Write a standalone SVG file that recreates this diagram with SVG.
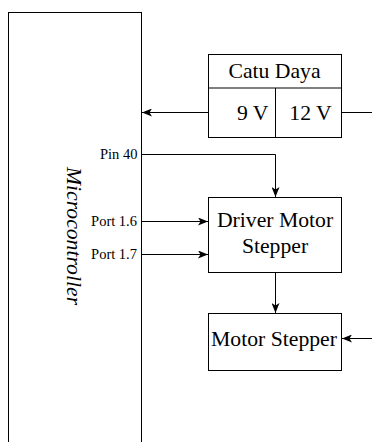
<svg xmlns="http://www.w3.org/2000/svg" width="372" height="442" viewBox="0 0 372 442">
  <style>
    .box{fill:#fff;stroke:#000;stroke-width:1}
    .ln{fill:none;stroke:#000;stroke-width:1}
    .big{font-family:"Liberation Serif","Times New Roman",serif;font-size:21.7px;fill:#000}
    .sm{font-family:"Liberation Serif","Times New Roman",serif;font-size:14.5px;fill:#000}
  </style>
  <defs>
    <marker id="arr" viewBox="0 0 10 8" markerWidth="10" markerHeight="8" refX="10" refY="4" orient="auto" markerUnits="userSpaceOnUse">
      <path d="M0,0 L10,4 L0,8 L2.5,4 Z" fill="#000"/>
    </marker>
  </defs>
  <rect width="372" height="442" fill="#fff"/>
  <g id="microcontroller">
    <rect class="box" x="8.5" y="12.5" width="133" height="440"/>
    <text class="big" font-style="italic" text-anchor="middle" x="66.5" y="236" transform="rotate(90 66.5 236)">Microcontroller</text>
    <text class="sm" text-anchor="end" x="137.5" y="159">Pin 40</text>
    <text class="sm" text-anchor="end" x="137" y="226">Port 1.6</text>
    <text class="sm" text-anchor="end" x="137" y="259">Port 1.7</text>
  </g>
  <g id="catu-daya">
    <rect class="box" x="208.5" y="54.5" width="133" height="83"/>
    <line class="ln" x1="208.5" y1="88" x2="341.5" y2="88"/>
    <line class="ln" x1="275.5" y1="88" x2="275.5" y2="137.5"/>
    <text class="big" text-anchor="middle" x="274.5" y="78">Catu Daya</text>
    <text class="big" text-anchor="end" x="268.5" y="119.5">9 V</text>
    <text class="big" text-anchor="middle" x="310.5" y="119.5">12 V</text>
  </g>
  <g id="driver">
    <rect class="box" x="208.5" y="197.5" width="133" height="75"/>
    <text class="big" text-anchor="middle" x="275" y="226.5">Driver Motor</text>
    <text class="big" text-anchor="middle" x="275" y="253.3">Stepper</text>
  </g>
  <g id="motor">
    <rect class="box" x="208.5" y="313.5" width="133" height="57"/>
    <text class="big" text-anchor="middle" x="274" y="345.5">Motor Stepper</text>
  </g>
  <g id="connectors">
    <path class="ln" d="M208.5,112.5 H142" marker-end="url(#arr)"/>
    <path class="ln" d="M341.5,112.5 H372"/>
    <path class="ln" d="M141.5,154.5 H275.5 V197" marker-end="url(#arr)"/>
    <path class="ln" d="M141.5,221.5 H208" marker-end="url(#arr)"/>
    <path class="ln" d="M141.5,254.5 H208" marker-end="url(#arr)"/>
    <path class="ln" d="M275.5,272.5 V313" marker-end="url(#arr)"/>
    <path class="ln" d="M372,338.5 H342" marker-end="url(#arr)"/>
  </g>
</svg>
